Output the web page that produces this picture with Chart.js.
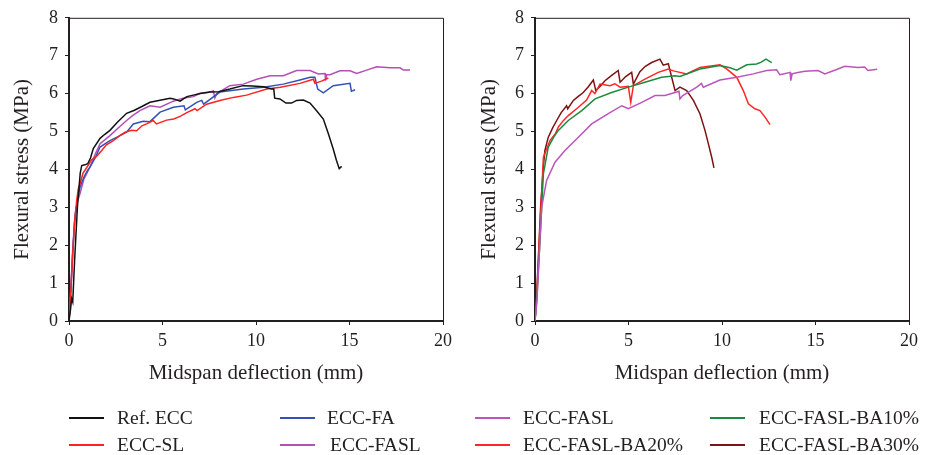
<!DOCTYPE html>
<html>
<head>
<meta charset="utf-8">
<title>Flexural stress vs midspan deflection</title>
<script src="https://cdn.jsdelivr.net/npm/chart.js@4.4.0/dist/chart.umd.min.js"></script>
<style>
  body { margin: 0; background: #fff; }
  #wrap { position: relative; width: 925px; height: 455px; }
  canvas { position: absolute; top: 0; }
</style>
</head>
<body>
<div id="wrap">
  <canvas id="left" width="462" height="455" style="left:0"></canvas>
  <canvas id="right" width="463" height="455" style="left:462px"></canvas>
</div>
<script>
// ---- left panel: deflection (mm) / stress (MPa) ----
const refX = [0, 0.08, 0.14, 0.2, 0.3, 0.45, 0.6, 0.68, 0.85, 1.0, 1.15, 1.3, 1.66, 1.9, 2.19, 2.6, 3.08, 3.5, 3.9, 4.33, 4.8, 5.4, 5.6, 5.94, 6.3, 6.65, 7.0, 7.5, 8.0, 8.6, 9.3, 9.8, 10.4, 10.84, 10.95, 11.0, 11.28, 11.6, 11.9, 12.17, 12.53, 12.89, 13.24, 13.6, 13.87, 14.13, 14.3, 14.45, 14.58];
const refY = [0, 0.3, 0.59, 0.5, 1.6, 3.0, 3.9, 4.1, 4.12, 4.15, 4.3, 4.55, 4.82, 4.92, 5.03, 5.25, 5.48, 5.56, 5.66, 5.77, 5.82, 5.88, 5.86, 5.8, 5.92, 5.96, 6.0, 6.04, 6.05, 6.12, 6.21, 6.2, 6.18, 6.12, 6.12, 5.88, 5.86, 5.75, 5.75, 5.82, 5.83, 5.75, 5.55, 5.33, 4.94, 4.54, 4.24, 4.02, 4.08];

const slX = [0, 0.1, 0.2, 0.3, 0.41, 0.5, 0.59, 0.75, 0.95, 1.2, 1.48, 1.75, 2.0, 2.35, 2.73, 3.0, 3.35, 3.62, 3.9, 4.15, 4.5, 4.68, 5.22, 5.6, 5.94, 6.3, 6.74, 6.85, 7.36, 8.07, 8.79, 9.5, 10.57, 11.3, 12.35, 13.07, 13.15, 13.5, 13.87];
const slY = [0, 0.8, 1.8, 2.6, 3.18, 3.5, 3.62, 3.9, 4.05, 4.25, 4.35, 4.5, 4.65, 4.75, 4.9, 4.98, 5.03, 5.02, 5.15, 5.2, 5.29, 5.2, 5.3, 5.33, 5.4, 5.5, 5.6, 5.55, 5.72, 5.82, 5.9, 5.96, 6.12, 6.17, 6.27, 6.38, 6.27, 6.33, 6.41];

const faX = [0, 0.1, 0.2, 0.3, 0.45, 0.59, 0.8, 1.0, 1.12, 1.4, 1.66, 2.19, 2.6, 3.08, 3.44, 3.97, 4.33, 4.87, 5.58, 6.15, 6.22, 6.83, 7.1, 7.2, 8.07, 9.32, 10.4, 11.46, 12.35, 12.9, 13.15, 13.3, 13.6, 14.13, 15.03, 15.1, 15.3];
const faY = [0, 0.8, 1.8, 2.6, 3.2, 3.53, 3.8, 3.98, 4.06, 4.3, 4.59, 4.76, 4.86, 4.98, 5.2, 5.27, 5.26, 5.51, 5.64, 5.68, 5.57, 5.77, 5.82, 5.72, 6.04, 6.12, 6.17, 6.25, 6.36, 6.43, 6.43, 6.12, 6.02, 6.21, 6.27, 6.06, 6.1];

const faslLX = [0, 0.1, 0.2, 0.32, 0.45, 0.59, 0.8, 1.12, 1.4, 1.66, 2.19, 2.6, 3.08, 3.4, 3.79, 4.33, 4.87, 5.58, 6.1, 6.65, 7.0, 7.45, 7.72, 7.8, 7.9, 8.6, 9.32, 10.04, 10.75, 11.46, 12.17, 12.89, 13.33, 13.69, 13.72, 13.78, 13.96, 14.49, 15.03, 15.38, 15.92, 16.45, 17.17, 17.7, 17.88, 18.24];
const faslLY = [0, 0.9, 1.9, 2.82, 3.15, 3.36, 3.75, 4.06, 4.4, 4.68, 4.89, 5.08, 5.29, 5.42, 5.55, 5.68, 5.64, 5.8, 5.88, 5.92, 6.0, 6.03, 6.07, 5.89, 6.0, 6.21, 6.25, 6.38, 6.47, 6.47, 6.61, 6.61, 6.52, 6.53, 6.34, 6.5, 6.5, 6.6, 6.6, 6.53, 6.62, 6.71, 6.68, 6.68, 6.62, 6.62];

// ---- right panel ----
const faslRX = [0, 0.1, 0.18, 0.27, 0.36, 0.62, 1.07, 1.6, 2.32, 3.03, 3.92, 4.64, 4.99, 5.71, 6.42, 6.95, 7.49, 7.7, 7.75, 7.9, 8.65, 8.9, 9.0, 9.89, 10.79, 11.67, 12.39, 12.92, 13.09, 13.28, 13.64, 13.68, 13.75, 13.99, 14.43, 15.14, 15.5, 16.2, 16.56, 17.27, 17.63, 17.8, 18.3];
const faslRY = [0, 0.5, 1.3, 2.2, 3.01, 3.71, 4.19, 4.5, 4.85, 5.2, 5.47, 5.68, 5.6, 5.77, 5.95, 5.95, 6.03, 6.06, 5.86, 5.95, 6.17, 6.27, 6.17, 6.36, 6.43, 6.52, 6.61, 6.63, 6.5, 6.52, 6.56, 6.34, 6.52, 6.55, 6.59, 6.61, 6.52, 6.65, 6.72, 6.69, 6.7, 6.61, 6.64];

const ba10X = [0, 0.1, 0.2, 0.27, 0.45, 0.71, 1.0, 1.25, 1.78, 2.5, 3.21, 4.1, 4.99, 5.88, 6.77, 7.49, 7.75, 8.82, 9.89, 10.43, 10.79, 11.32, 11.85, 12.1, 12.35, 12.66];
const ba10Y = [0, 0.6, 1.5, 2.13, 3.89, 4.59, 4.85, 5.03, 5.29, 5.55, 5.86, 6.03, 6.17, 6.3, 6.43, 6.47, 6.45, 6.65, 6.74, 6.68, 6.62, 6.76, 6.78, 6.83, 6.91, 6.82];

const ba20X = [0, 0.1, 0.2, 0.32, 0.45, 0.8, 1.1, 1.25, 1.5, 1.78, 2.32, 2.76, 3.03, 3.2, 3.48, 4.01, 4.27, 4.55, 4.99, 5.12, 5.26, 5.88, 6.59, 7.13, 7.4, 7.75, 8.11, 8.82, 9.89, 10.25, 10.79, 11.14, 11.41, 11.76, 12.03, 12.3, 12.57];
const ba20Y = [0, 0.7, 1.8, 3.0, 4.32, 4.76, 4.95, 5.12, 5.28, 5.42, 5.64, 5.83, 6.08, 6.0, 6.25, 6.21, 6.26, 6.17, 6.19, 5.77, 6.21, 6.38, 6.56, 6.65, 6.6, 6.56, 6.52, 6.69, 6.76, 6.65, 6.43, 6.08, 5.73, 5.6, 5.55, 5.38, 5.18];

const ba30X = [0, 0.1, 0.2, 0.3, 0.45, 0.53, 0.71, 0.95, 1.16, 1.4, 1.69, 1.75, 2.05, 2.3, 2.58, 2.85, 3.12, 3.25, 3.5, 3.74, 4.1, 4.45, 4.55, 4.85, 5.17, 5.26, 5.61, 5.9, 6.24, 6.68, 6.86, 7.13, 7.31, 7.49, 7.75, 8.11, 8.47, 8.82, 9.09, 9.27, 9.45, 9.57];
const ba30Y = [0, 0.8, 1.9, 3.0, 4.1, 4.5, 4.85, 5.1, 5.29, 5.5, 5.68, 5.6, 5.82, 5.92, 6.03, 6.18, 6.36, 6.08, 6.2, 6.34, 6.48, 6.61, 6.3, 6.45, 6.56, 6.25, 6.58, 6.72, 6.82, 6.91, 6.75, 6.79, 6.43, 6.08, 6.17, 6.08, 5.82, 5.47, 5.03, 4.68, 4.32, 4.04];

const xTicks = [0, 5, 10, 15, 20];
const yTicks = [0, 1, 2, 3, 4, 5, 6, 7, 8];

const ink = '#231f20';
const serif = '"Liberation Serif", "Times New Roman", serif';

function pts(xs, ys) {
    return xs.map((x, i) => ({x: x, y: ys[i]}));
}
function series(label, xs, ys, color) {
    return {label: label, data: pts(xs, ys), borderColor: color, backgroundColor: color,
            borderWidth: 1.5, pointRadius: 0, tension: 0, fill: false};
}

// box on the top/right of the plot, plus the two-column legend underneath
const frameLegend = {
    id: 'frameLegend',
    afterDraw(chart, args, opts) {
        const ctx = chart.ctx, a = chart.chartArea;
        ctx.save();
        ctx.strokeStyle = ink;
        ctx.lineWidth = 1;
        ctx.beginPath();
        ctx.moveTo(a.left, a.top + 0.5);
        ctx.lineTo(a.right + 0.5, a.top + 0.5);
        ctx.lineTo(a.right + 0.5, a.bottom);
        ctx.stroke();

        ctx.font = '19.5px ' + serif;
        ctx.textBaseline = 'middle';
        ctx.textAlign = 'left';
        chart.data.datasets.forEach((ds, i) => {
            const s = opts.slots[i];
            ctx.strokeStyle = ds.borderColor;
            ctx.lineWidth = 2;
            ctx.beginPath();
            ctx.moveTo(s[0], s[2]);
            ctx.lineTo(s[0] + 35, s[2]);
            ctx.stroke();
            ctx.fillStyle = ink;
            ctx.fillText(ds.label, s[1], s[2] + 0.5);
        });
        ctx.restore();
    }
};

function makeChart(id, datasets, yWidth, rightPad, yTitlePad, slots) {
    return new Chart(document.getElementById(id), {
        type: 'line',
        data: {datasets: datasets},
        plugins: [frameLegend],
        options: {
            responsive: false,
            animation: false,
            devicePixelRatio: 1,
            layout: {padding: {top: 17, right: rightPad, bottom: 69, left: 0}},
            plugins: {
                legend: {display: false},
                tooltip: {enabled: false},
                frameLegend: {slots: slots}
            },
            scales: {
                x: {
                    type: 'linear', min: 0, max: 20,
                    afterBuildTicks: s => { s.ticks = xTicks.map(v => ({value: v})); },
                    afterFit: s => { s.height = 65; },
                    ticks: {color: ink, padding: 5, font: {family: serif, size: 18}},
                    grid: {drawOnChartArea: false, tickLength: 4, color: ink},
                    border: {color: ink, width: 2},
                    title: {display: true, text: 'Midspan deflection (mm)', color: ink,
                            font: {family: serif, size: 21}, padding: {top: 0, bottom: 0}}
                },
                y: {
                    type: 'linear', min: 0, max: 8,
                    afterBuildTicks: s => { s.ticks = yTicks.map(v => ({value: v})); },
                    afterFit: s => { s.width = yWidth; },
                    ticks: {color: ink, padding: 7, font: {family: serif, size: 18}},
                    grid: {drawOnChartArea: false, tickLength: 4, color: ink},
                    border: {color: ink, width: 2},
                    title: {display: true, text: 'Flexural stress (MPa)', color: ink,
                            font: {family: serif, size: 21}, padding: {top: yTitlePad, bottom: 0}}
                }
            }
        }
    });
}

makeChart('left', [
    series('Ref. ECC', refX, refY, '#111111'),
    series('ECC-SL', slX, slY, '#ff2222'),
    series('ECC-FA', faX, faY, '#3152b4'),
    series('ECC-FASL', faslLX, faslLY, '#b44fb4')
], 69, 19, 10, [[69, 117, 418], [69, 117, 445], [280, 327, 418], [280, 330, 445]]);

makeChart('right', [
    series('ECC-FASL', faslRX, faslRY, '#bb55bb'),
    series('ECC-FASL-BA10%', ba10X, ba10Y, '#1e8a3e'),
    series('ECC-FASL-BA20%', ba20X, ba20Y, '#ff2626'),
    series('ECC-FASL-BA30%', ba30X, ba30Y, '#7d1212')
], 73, 16, 15, [[13, 61, 418], [248, 297, 418], [13, 61, 445], [248, 297, 445]]);
</script>
</body>
</html>
